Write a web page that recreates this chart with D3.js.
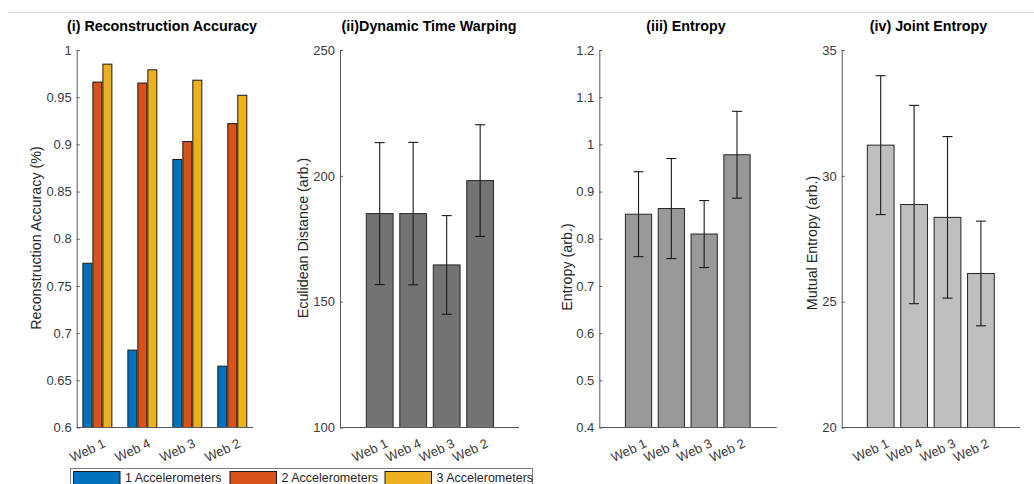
<!DOCTYPE html>
<html>
<head>
<meta charset="utf-8">
<script src="https://cdn.jsdelivr.net/npm/d3@7"></script>
<style>
  body { margin: 0; background: #fff; }
  svg { display: block; font-family: "Liberation Sans", Arial, sans-serif; }
</style>
</head>
<body>
<svg id="chart" width="1034" height="484"></svg>
<script>
// data
var webs = ["Web 1", "Web 4", "Web 3", "Web 2"];
var accNames = ["1 Accelerometers", "2 Accelerometers", "3 Accelerometers"];
var acc1 = [0.774, 0.682, 0.884, 0.665];
var acc2 = [0.966, 0.965, 0.903, 0.922];
var acc3 = [0.985, 0.979, 0.968, 0.952];
var accTicks = [0.6, 0.65, 0.7, 0.75, 0.8, 0.85, 0.9, 0.95, 1];

var dtwMean = [185, 185, 164.6, 198.1];
var dtwErr = [28.2, 28.3, 19.6, 22.2];
var dtwTicks = [100, 150, 200, 250];

var entMean = [0.852, 0.864, 0.810, 0.978];
var entErr = [0.090, 0.106, 0.071, 0.092];
var entTicks = [0.4, 0.5, 0.6, 0.7, 0.8, 0.9, 1, 1.1, 1.2];

var jointMean = [31.22, 28.86, 28.35, 26.12];
var jointErr = [2.76, 3.94, 3.21, 2.08];
var jointTicks = [20, 25, 30, 35];

var accColors = ["#0072BD", "#D95319", "#EDB120"];

var svg = d3.select("#chart");
var yTop = 50, yBot = 427.5;
var tickCol = "#3a3a3a", axisCol = "#5a5a5a";

// top separator line
svg.append("line")
    .attr("x1", 8).attr("x2", 1034).attr("y1", 12.5).attr("y2", 12.5)
    .attr("stroke", "#d9d9d9").attr("stroke-width", 1);

function drawAxes(g, x, y, ticks, cfg)
{
    var x0 = x.range()[0], x1 = x.range()[1];
    // y axis with inward ticks
    var ya = d3.axisLeft(y).tickValues(ticks).tickSizeInner(-3).tickSizeOuter(0)
        .tickPadding(5).tickFormat(function(d) { return d3.format("~g")(d); });
    var gy = g.append("g").attr("transform", "translate(" + x0 + ",0)").call(ya);
    gy.select(".domain").attr("stroke", axisCol);
    gy.selectAll(".tick line").attr("stroke", axisCol);
    gy.selectAll(".tick text").attr("fill", tickCol).style("font-size", "13px")
        .style("font-family", "Liberation Sans, Arial, sans-serif");
    // x axis line
    g.append("line").attr("x1", x0).attr("x2", x1).attr("y1", yBot).attr("y2", yBot)
        .attr("stroke", axisCol).attr("stroke-width", 1);
    // rotated category labels
    g.selectAll(".xlab").data(webs).enter().append("text")
        .attr("class", "xlab")
        .attr("transform", function(d, i) { return "translate(" + (x(i + 1) + 9) + "," + (yBot + 19) + ") rotate(-25)"; })
        .attr("text-anchor", "end")
        .attr("fill", tickCol)
        .style("font-size", "13px")
        .text(function(d) { return d; });
    // title
    g.append("text")
        .attr("x", cfg.titleX).attr("y", 31)
        .attr("text-anchor", "middle")
        .style("font-size", "14.3px").style("font-weight", "bold")
        .attr("fill", "#000")
        .text(cfg.title);
    // y label
    g.append("text")
        .attr("transform", "translate(" + cfg.labX + "," + cfg.labY + ") rotate(-90)")
        .attr("text-anchor", "middle")
        .attr("dy", "0.35em")
        .attr("fill", "#262626")
        .style("font-size", "14.3px")
        .text(cfg.ylabel);
}

// ==> panel (i): grouped bars
(function() {
    var g = svg.append("g");
    var x = d3.scaleLinear().domain([0.54, 4.46]).range([76.7, 253]);
    var y = d3.scaleLinear().domain([0.6, 1]).range([yBot, yTop]);
    var series = [acc1, acc2, acc3];
    var bw = x(0.2) - x(0);
    series.forEach(function(vals, s) {
        g.selectAll(".acc" + s).data(vals).enter().append("rect")
            .attr("class", "acc" + s)
            .attr("x", function(d, i) { return x(i + 1 + (s - 1) * 0.222) - bw / 2; })
            .attr("y", function(d) { return y(d); })
            .attr("width", bw)
            .attr("height", function(d) { return yBot - y(d); })
            .attr("fill", accColors[s])
            .attr("stroke", "#1a1a1a").attr("stroke-width", 1);
    });
    drawAxes(g, x, y, accTicks, {title: "(i) Reconstruction Accuracy", titleX: 162,
        ylabel: "Reconstruction Accuracy (%)", labX: 36, labY: 238});
})();

// ==> panels (ii)-(iv): single bars with error bars
function errPanel(cfg)
{
    var g = svg.append("g");
    var x = d3.scaleLinear().domain(cfg.xlim).range(cfg.xr);
    var y = d3.scaleLinear().domain([cfg.ticks[0], cfg.ticks[cfg.ticks.length - 1]]).range([yBot, yTop]);
    var bw = x(0.8) - x(0);
    g.selectAll(".bar").data(cfg.mean).enter().append("rect")
        .attr("class", "bar")
        .attr("x", function(d, i) { return x(i + 1) - bw / 2; })
        .attr("y", function(d) { return y(d); })
        .attr("width", bw)
        .attr("height", function(d) { return yBot - y(d); })
        .attr("fill", cfg.fill)
        .attr("stroke", "#262626").attr("stroke-width", 1);
    var eb = g.selectAll(".err").data(cfg.mean).enter().append("g").attr("class", "err")
        .attr("stroke", "#1a1a1a").attr("stroke-width", 1.1);
    eb.append("line")
        .attr("x1", function(d, i) { return x(i + 1); })
        .attr("x2", function(d, i) { return x(i + 1); })
        .attr("y1", function(d, i) { return y(d + cfg.err[i]); })
        .attr("y2", function(d, i) { return y(d - cfg.err[i]); });
    [1, -1].forEach(function(sg) {
        eb.append("line")
            .attr("x1", function(d, i) { return x(i + 1) - 5; })
            .attr("x2", function(d, i) { return x(i + 1) + 5; })
            .attr("y1", function(d, i) { return y(d + sg * cfg.err[i]); })
            .attr("y2", function(d, i) { return y(d + sg * cfg.err[i]); });
    });
    drawAxes(g, x, y, cfg.ticks, cfg);
}

errPanel({mean: dtwMean, err: dtwErr, ticks: dtwTicks, fill: "#737373",
    xlim: [-0.185, 5.16], xr: [340, 519],
    title: "(ii)Dynamic Time Warping", titleX: 429,
    ylabel: "Eculidean Distance (arb.)", labX: 303, labY: 238});

errPanel({mean: entMean, err: entErr, ticks: entTicks, fill: "#999999",
    xlim: [-0.195, 5.21], xr: [599.3, 776.7],
    title: "(iii) Entropy", titleX: 686,
    ylabel: "Entropy (arb.)", labX: 567, labY: 267});

errPanel({mean: jointMean, err: jointErr, ticks: jointTicks, fill: "#bfbfbf",
    xlim: [-0.167, 5.17], xr: [841.7, 1020],
    title: "(iv) Joint Entropy", titleX: 928.5,
    ylabel: "Mutual Entropy (arb.)", labX: 812, labY: 243});

// ==> legend
var leg = svg.append("g");
leg.append("rect").attr("x", 70.5).attr("y", 468.5).attr("width", 462).attr("height", 24)
    .attr("fill", "#fff").attr("stroke", "#7a7a7a").attr("stroke-width", 1);
var legX = [73.5, 230, 385];
accNames.forEach(function(name, s) {
    leg.append("rect").attr("x", legX[s]).attr("y", 471.5).attr("width", 46.5).attr("height", 14)
        .attr("fill", accColors[s]).attr("stroke", "#1a1a1a").attr("stroke-width", 1);
    leg.append("text").attr("x", legX[s] + 51.5).attr("y", 482)
        .attr("fill", "#262626").style("font-size", "12.5px").text(name);
});
</script>
</body>
</html>
